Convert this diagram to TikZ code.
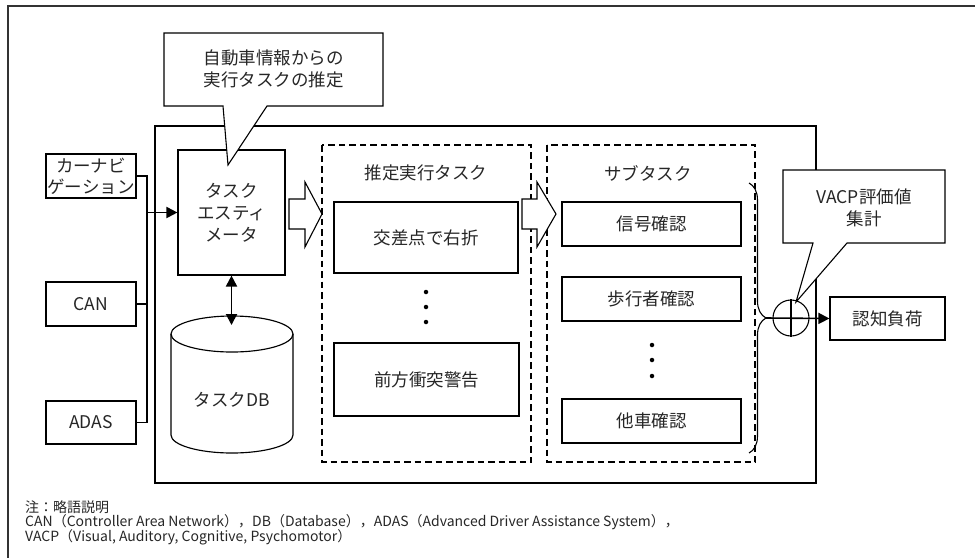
\documentclass[tikz,border=0pt]{standalone}
\usepackage{fontspec}
\setmainfont{Noto Sans CJK JP}
\usetikzlibrary{arrows.meta,decorations.pathreplacing}
\begin{document}
\begin{tikzpicture}[x=1pt,y=-1pt,
  every node/.style={text=black!85, font=\fontsize{17.5}{22}\selectfont, align=center},
  box/.style={draw=black, line width=1.15pt, fill=white, inner sep=0pt},
  frame/.style={draw=black, line width=1.3pt},
  dashbox/.style={draw=black, line width=1.1pt, dash pattern=on 6.5pt off 4pt},
  bus/.style={draw=black, line width=1.9pt},
  tip/.style={-{Triangle[length=11pt,width=11pt]}},
  hollow/.style={draw=black, line width=1.1pt, fill=white, line join=miter},
  callout/.style={draw=black, line width=1.1pt, fill=white, line join=miter},
  dot/.style={fill=black, draw=none, circle, minimum size=4.5pt, inner sep=0pt},
  note/.style={font=\fontsize{14}{16}\selectfont, anchor=west, inner sep=0pt, align=left}
]
\useasboundingbox (0,0) rectangle (975,558);

% outer frame (only top and left edges fall inside the page)
\draw[draw=black!80, line width=1.6pt] (975,6) -- (8,6) -- (8,558);

% system block
\draw[frame] (155,126) rectangle (816,483);

% input sources
\node[box, minimum width=90pt, minimum height=44pt] (carnav) at (91,176) {カーナビ\\[-1pt]ゲーション};
\node[box, minimum width=90pt, minimum height=44pt] (can) at (91,304) {CAN};
\node[box, minimum width=90pt, minimum height=43pt] (adas) at (91,422.5) {ADAS};

% task estimator and its database
\node[box, minimum width=107pt, minimum height=125pt] (est) at (231.5,212.5) {タスク\\エスティ\\メータ};
\draw[frame, line width=1.15pt, fill=white] (171,334) -- (171,435)
  arc[start angle=180, end angle=0, x radius=61, y radius=18] -- (293,334)
  arc[start angle=0, end angle=-180, x radius=61, y radius=18] -- cycle;
\draw[frame, line width=1.15pt] (171,334) arc[start angle=180, end angle=0, x radius=61, y radius=18];
\node (db) at (232,400) {タスクDB};
\coordinate (dbtop) at (231.5,325);

% bus from the sources to the estimator
\coordinate (busN) at (147,176);
\coordinate (busA) at (147,422.5);
\draw[bus] (carnav.east) -- (busN) -- (busA) -- (adas.east);
\draw[bus] (can.east) -- (can.east -| busN);
\draw[bus, tip] (busN |- est.west) -- (est.west);
\draw[bus, {Triangle[length=11pt,width=11pt]}-{Triangle[length=11pt,width=11pt]}] (est.south) -- (dbtop);

% estimated tasks
\draw[dashbox] (322,145) rectangle (531,462);
\node (esthead) at (426,173) {推定実行タスク};
\node[box, minimum width=184pt, minimum height=71pt] (t1) at (426,237.5) {交差点で右折};
\node[box, minimum width=185pt, minimum height=73pt] (t2) at (426.5,379.5) {前方衝突警告};
\node[dot] (d1) at (426,292) {};
\node[dot] (d2) at (426,307) {};
\node[dot] (d3) at (426,322) {};

% subtasks
\draw[dashbox] (547,145) rectangle (755,462);
\node (subhead) at (648,173) {サブタスク};
\node[box, minimum width=179pt, minimum height=44pt] (s1) at (651.5,224) {信号確認};
\node[box, minimum width=179pt, minimum height=44pt] (s2) at (651.5,299) {歩行者確認};
\node[box, minimum width=179pt, minimum height=44pt] (s3) at (651.5,421) {他車確認};
\node[dot] (e1) at (652,345) {};
\node[dot] (e2) at (652,360) {};
\node[dot] (e3) at (652,376) {};

% block arrows between stages
\draw[hollow] (289,199) -- (305,199) -- (305,182) -- (322,214) -- (305,247) -- (305,229) -- (289,229) -- cycle;
\draw[hollow] (522,199) -- (537,199) -- (537,182) -- (556,214) -- (537,247) -- (537,229) -- (522,229) -- cycle;

% aggregation of the subtasks
\draw[draw=black, line width=1.1pt, decorate, decoration={brace, amplitude=17pt}] (749,183) -- (749,453);
\coordinate (btip) at (766,318);
\node[draw=black, line width=1.1pt, circle, minimum size=36pt, inner sep=0pt] (sum) at (791,318) {};
\draw[draw=black, line width=1.1pt] (sum.north) -- (sum.south);
\node[box, minimum width=115pt, minimum height=43pt] (load) at (887.5,318.5) {認知負荷};
\draw[bus, line width=1.6pt, tip] (btip) -- (load.west);

% callouts
\draw[callout] (164,33) -- (383,33) -- (383,106) -- (267,106) -- (228,165) -- (223,106) -- (164,106) -- cycle;
\node (c1) at (273.5,69) {自動車情報からの\\実行タスクの推定};
\draw[callout] (783,170) -- (945,170) -- (945,243) -- (847,243) -- (796,302) -- (813,243) -- (783,243) -- cycle;
\node (c2) at (864,208) {VACP評価値\\集計};

% abbreviations
\node[note] (n1) at (25,507) {注：略語説明};
\node[note] (n2) at (25,522) {CAN（Controller Area Network），DB（Database），ADAS（Advanced Driver Assistance System），};
\node[note] (n3) at (25,537) {VACP（Visual, Auditory, Cognitive, Psychomotor）};
\end{tikzpicture}
\end{document}
